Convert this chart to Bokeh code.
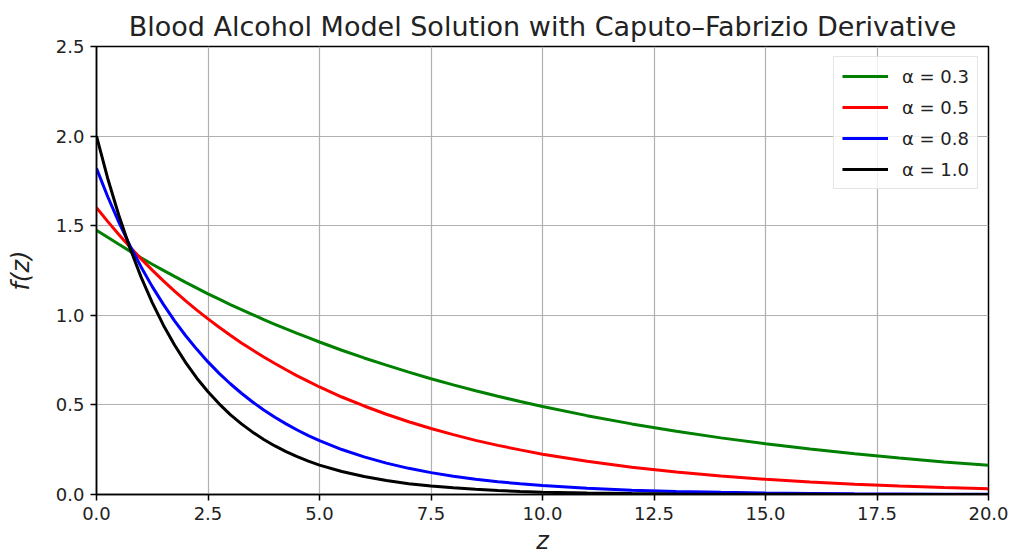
from bokeh.plotting import figure
from bokeh.models import Legend, LegendItem, Range1d, FixedTicker, PrintfTickFormatter
from bokeh.embed import file_html
from bokeh.resources import INLINE

# Sample points along z (finer where the curves bend most)
z = [0, 0.25, 0.5, 0.75, 1, 1.25, 1.5, 1.75, 2, 2.25, 2.5, 2.75, 3, 3.25, 3.5,
     3.75, 4, 4.25, 4.5, 4.75, 5, 5.5, 6, 6.5, 7, 7.5, 8, 8.5, 9, 9.5, 10,
     11, 12, 13, 14, 15, 16, 17, 18, 19, 20]

# f(z) for each fractional order alpha
f_alpha_03 = [1.475, 1.435, 1.396, 1.358, 1.321, 1.285, 1.251, 1.217, 1.184, 1.152,
              1.120, 1.090, 1.060, 1.032, 1.004, 0.976, 0.950, 0.924, 0.899, 0.875,
              0.851, 0.805, 0.762, 0.722, 0.683, 0.646, 0.612, 0.579, 0.548, 0.519,
              0.491, 0.440, 0.394, 0.353, 0.316, 0.283, 0.254, 0.227, 0.204, 0.182,
              0.163]
f_alpha_05 = [1.600, 1.524, 1.451, 1.381, 1.315, 1.252, 1.192, 1.135, 1.081, 1.029,
              0.980, 0.933, 0.889, 0.846, 0.806, 0.767, 0.731, 0.696, 0.662, 0.631,
              0.600, 0.544, 0.494, 0.448, 0.406, 0.368, 0.334, 0.302, 0.274, 0.249,
              0.225, 0.185, 0.152, 0.125, 0.103, 0.085, 0.070, 0.057, 0.047, 0.039,
              0.032]
f_alpha_08 = [1.820, 1.663, 1.520, 1.389, 1.270, 1.160, 1.061, 0.969, 0.886, 0.810,
              0.740, 0.676, 0.618, 0.565, 0.516, 0.472, 0.431, 0.394, 0.360, 0.329,
              0.301, 0.251, 0.210, 0.175, 0.146, 0.122, 0.102, 0.085, 0.071, 0.060,
              0.050, 0.035, 0.024, 0.017, 0.012, 0.008, 0.006, 0.004, 0.003, 0.002,
              0.001]
f_alpha_10 = [2.000, 1.765, 1.558, 1.375, 1.213, 1.071, 0.945, 0.834, 0.736, 0.649,
              0.573, 0.506, 0.446, 0.394, 0.348, 0.307, 0.271, 0.239, 0.211, 0.186,
              0.164, 0.128, 0.100, 0.078, 0.060, 0.047, 0.037, 0.029, 0.022, 0.017,
              0.013, 0.008, 0.005, 0.003, 0.002, 0.001, 0.001, 0.0004, 0.0002, 0.0002,
              0.0001]

series_labels = ["α = 0.3", "α = 0.5", "α = 0.8", "α = 1.0"]
series_values = [f_alpha_03, f_alpha_05, f_alpha_08, f_alpha_10]
series_colors = ["#008000", "#ff0000", "#0000ff", "#000000"]

x_ticks = [0, 2.5, 5, 7.5, 10, 12.5, 15, 17.5, 20]
y_ticks = [0, 0.5, 1.0, 1.5, 2.0, 2.5]

FONT = "DejaVu Sans"

p = figure(width=1013, height=558, output_backend="svg", toolbar_location=None,
           x_range=Range1d(0, 20), y_range=Range1d(0, 2.5),
           min_border_left=96, min_border_right=25, min_border_top=46,
           min_border_bottom=64, background_fill_color="white",
           border_fill_color="white")

p.title.text = "Blood Alcohol Model Solution with Caputo–Fabrizio Derivative"
p.title.align = "center"
p.title.text_font = FONT
p.title.text_font_size = "27px"
p.title.text_font_style = "normal"
p.title.text_color = "#222222"
p.title.standoff = 10

p.outline_line_color = "black"
p.outline_line_width = 1.5
p.outline_line_alpha = 1.0

p.xaxis.ticker = FixedTicker(ticks=x_ticks)
p.yaxis.ticker = FixedTicker(ticks=y_ticks)
p.xaxis.formatter = PrintfTickFormatter(format="%.1f")
p.yaxis.formatter = PrintfTickFormatter(format="%.1f")

for ax in (p.xaxis, p.yaxis):
    ax.axis_line_color = "black"
    ax.axis_line_width = 1.5
    ax.major_tick_line_color = "black"
    ax.major_tick_line_width = 1.5
    ax.major_tick_out = 6
    ax.major_tick_in = 0
    ax.minor_tick_line_color = None
    ax.major_label_text_font = FONT
    ax.major_label_text_font_size = "18px"
    ax.major_label_text_color = "#222222"
    ax.major_label_standoff = 6
    ax.axis_label_text_font = FONT
    ax.axis_label_text_font_size = "24px"
    ax.axis_label_text_font_style = "italic"
    ax.axis_label_text_color = "#222222"

p.xaxis.axis_label = "z"
p.yaxis.axis_label = "f(z)"
p.xaxis.axis_label_standoff = 4
p.yaxis.axis_label_standoff = 18

p.grid.grid_line_color = "#b0b0b0"
p.grid.grid_line_width = 1.2

items = []
for label, vals, color in zip(series_labels, series_values, series_colors):
    r = p.line(z, vals, line_color=color, line_width=3)
    items.append(LegendItem(label=label, renderers=[r]))

legend = Legend(items=items, location="top_right")
legend.margin = 10
legend.padding = 8
legend.spacing = 9
legend.glyph_width = 46
legend.glyph_height = 22
legend.label_height = 22
legend.label_standoff = 14
legend.label_text_font = FONT
legend.label_text_font_size = "18px"
legend.label_text_color = "#222222"
legend.border_line_color = "#cccccc"
legend.border_line_width = 1
legend.background_fill_alpha = 0.8
p.add_layout(legend, "center")

open("out.html", "w").write(file_html(p, INLINE))
